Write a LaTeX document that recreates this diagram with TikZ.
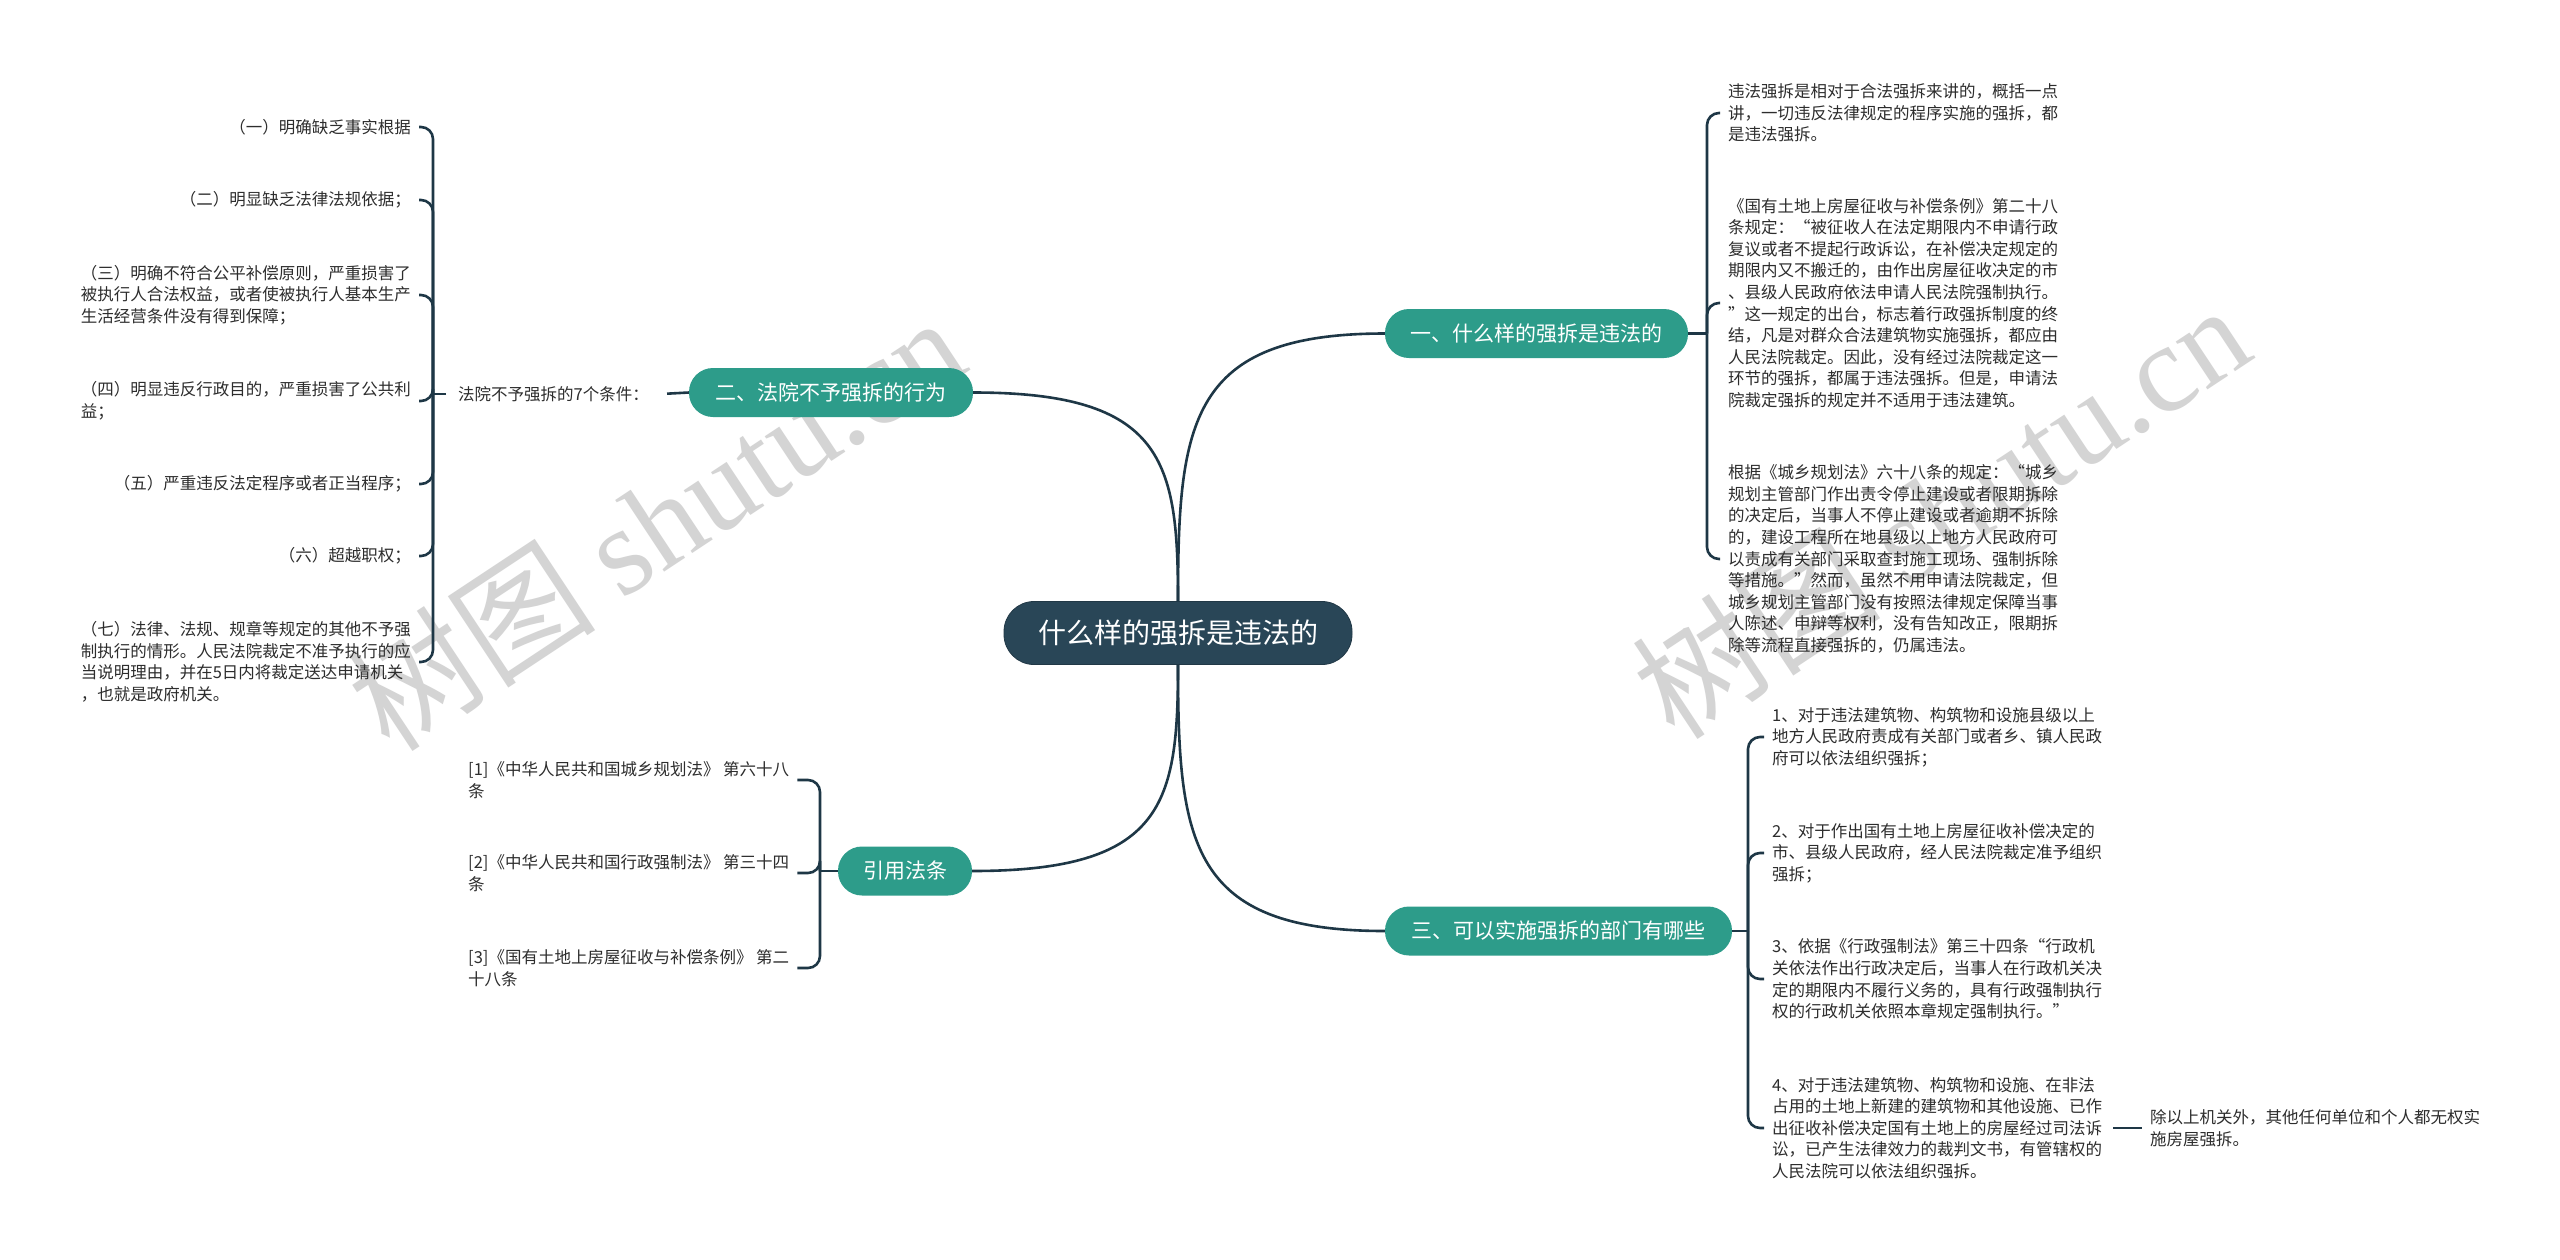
\documentclass[tikz,border=0pt]{standalone}
\usepackage{fontspec}
\setmainfont{Noto Sans CJK SC}
\newfontfamily\wmserif{Liberation Serif}
\definecolor{tealc}{RGB}{45,156,138}
\definecolor{rootc}{RGB}{41,70,87}
\definecolor{linec}{RGB}{30,55,70}
\definecolor{txtc}{RGB}{45,45,45}
\definecolor{wmc}{RGB}{212,212,212}
\begin{document}
\begin{tikzpicture}[x=1pt,y=-1pt,
  rootbox/.style={rounded corners=30pt, fill=rootc, draw=rootc!80!black, line width=0.8pt, text=white,
    minimum width=348pt, minimum height=63pt, inner sep=0pt, font=\fontsize{28}{30}\selectfont},
  branchbox/.style={rounded corners=24pt, fill=tealc, text=white, minimum height=49pt,
    inner sep=0pt, font=\fontsize{21}{24}\selectfont},
  leaf/.style={text=txtc, align=left, inner xsep=8pt, inner ysep=0pt, font=\fontsize{16.5}{21.6}\selectfont},
  conn/.style={draw=linec, line width=2.6pt},
  brk/.style={draw=linec, line width=2.6pt, rounded corners=12pt},
  wmark/.style={text=wmc, rotate=33.5, inner sep=0pt}
]
\useasboundingbox (0,0) rectangle (2560,1259);
\fill[white] (0,0) rectangle (2560,1259);

% watermarks
\node[wmark] (wm1) at (655,522) {\fontsize{125}{125}\selectfont 树图 \wmserif shutu.cn};
\node[wmark] (wm2) at (1940,510) {\fontsize{125}{125}\selectfont 树图 \wmserif shutu.cn};

% root and branches
\node[rootbox] (root) at (1178,633) {什么样的强拆是违法的};
\node[branchbox, minimum width=303pt] (b1) at (1536.5,333.5) {一、什么样的强拆是违法的};
\node[branchbox, minimum width=284pt] (b2) at (831,392.5) {二、法院不予强拆的行为};
\node[branchbox, minimum width=134pt] (bc) at (905,871) {引用法条};
\node[branchbox, minimum width=347pt] (b3) at (1558.5,931) {三、可以实施强拆的部门有哪些};

% root connectors
\draw[conn] (root.north) .. controls +(0,-180) and +(-195,0) .. (b1.west);
\draw[conn] (root.north) .. controls +(0,-140) and +(191,0) .. (b2.east);
\draw[conn] (root.south) .. controls +(0,139) and +(192,0) .. (bc.east);
\draw[conn] (root.south) .. controls +(0,178) and +(-195,0) .. (b3.west);

% ---------- branch 1 ----------
\coordinate (j1) at (1707,333.5);
\node[leaf, anchor=west] (t1) at (1720,113) {违法强拆是相对于合法强拆来讲的，概括一点\\讲，一切违反法律规定的程序实施的强拆，都\\是违法强拆。};
\node[leaf, anchor=west] (t2) at (1720,303) {《国有土地上房屋征收与补偿条例》第二十八\\条规定：“被征收人在法定期限内不申请行政\\复议或者不提起行政诉讼，在补偿决定规定的\\期限内又不搬迁的，由作出房屋征收决定的市\\、县级人民政府依法申请人民法院强制执行。\\”这一规定的出台，标志着行政强拆制度的终\\结，凡是对群众合法建筑物实施强拆，都应由\\人民法院裁定。因此，没有经过法院裁定这一\\环节的强拆，都属于违法强拆。但是，申请法\\院裁定强拆的规定并不适用于违法建筑。};
\node[leaf, anchor=west] (t3) at (1720,559) {根据《城乡规划法》六十八条的规定：“城乡\\规划主管部门作出责令停止建设或者限期拆除\\的决定后，当事人不停止建设或者逾期不拆除\\的，建设工程所在地县级以上地方人民政府可\\以责成有关部门采取查封施工现场、强制拆除\\等措施。”然而，虽然不用申请法院裁定，但\\城乡规划主管部门没有按照法律规定保障当事\\人陈述、申辩等权利，没有告知改正，限期拆\\除等流程直接强拆的，仍属违法。};
\draw[conn] (b1.east) -- (j1);
\draw[brk] (j1) |- (t1.west);
\draw[brk] (j1) |- (t2.west);
\draw[brk] (j1) |- (t3.west);

% ---------- branch 2 ----------
\node[leaf, anchor=west, inner xsep=12pt] (lab) at (446,394) {法院不予强拆的7个条件：};
\coordinate (j2) at (433,394);
\draw[conn, shorten <=6pt] (lab.east) -- (b2.west);
\draw[conn] (lab.west) -- (j2);
\node[leaf, anchor=east] (l1) at (419,127) {（一）明确缺乏事实根据};
\node[leaf, anchor=east] (l2) at (419,200) {（二）明显缺乏法律法规依据；};
\node[leaf, anchor=east] (l3) at (419,295) {（三）明确不符合公平补偿原则，严重损害了\\被执行人合法权益，或者使被执行人基本生产\\生活经营条件没有得到保障；};
\node[leaf, anchor=east] (l4) at (419,401) {（四）明显违反行政目的，严重损害了公共利\\益；};
\node[leaf, anchor=east] (l5) at (419,484) {（五）严重违反法定程序或者正当程序；};
\node[leaf, anchor=east] (l6) at (419,556) {（六）超越职权；};
\node[leaf, anchor=east] (l7) at (419,662) {（七）法律、法规、规章等规定的其他不予强\\制执行的情形。人民法院裁定不准予执行的应\\当说明理由，并在5日内将裁定送达申请机关\\，也就是政府机关。};
\foreach \n in {l1,l2,l3,l4,l5,l6,l7} {\draw[brk] (j2) |- (\n.east);}

% ---------- citations ----------
\coordinate (jc) at (820,871);
\draw[conn] (bc.west) -- (jc);
\node[leaf, anchor=west] (r1) at (460,780) {[1]《中华人民共和国城乡规划法》 第六十八\\条};
\node[leaf, anchor=west] (r2) at (460,873) {[2]《中华人民共和国行政强制法》 第三十四\\条};
\node[leaf, anchor=west] (r3) at (460,968) {[3]《国有土地上房屋征收与补偿条例》 第二\\十八条};
\draw[brk] (jc) |- (r1.east);
\draw[brk] (jc) |- (r2.east);
\draw[brk] (jc) |- (r3.east);

% ---------- branch 3 ----------
\coordinate (j3) at (1748,931);
\draw[conn] (b3.east) -- (j3);
\node[leaf, anchor=west] (c1) at (1764,737) {1、对于违法建筑物、构筑物和设施县级以上\\地方人民政府责成有关部门或者乡、镇人民政\\府可以依法组织强拆；};
\node[leaf, anchor=west] (c2) at (1764,853) {2、对于作出国有土地上房屋征收补偿决定的\\市、县级人民政府，经人民法院裁定准予组织\\强拆；};
\node[leaf, anchor=west] (c3) at (1764,979) {3、依据《行政强制法》第三十四条“行政机\\关依法作出行政决定后，当事人在行政机关决\\定的期限内不履行义务的，具有行政强制执行\\权的行政机关依照本章规定强制执行。”};
\node[leaf, anchor=west] (c4) at (1764,1128) {4、对于违法建筑物、构筑物和设施、在非法\\占用的土地上新建的建筑物和其他设施、已作\\出征收补偿决定国有土地上的房屋经过司法诉\\讼，已产生法律效力的裁判文书，有管辖权的\\人民法院可以依法组织强拆。};
\draw[brk] (j3) |- (c1.west);
\draw[brk] (j3) |- (c2.west);
\draw[brk] (j3) |- (c3.west);
\draw[brk] (j3) |- (c4.west);
\node[leaf, anchor=west] (s4) at (2142,1128) {除以上机关外，其他任何单位和个人都无权实\\施房屋强拆。};
\draw[conn, shorten <=3pt] (c4.east) -- (s4.west);
\end{tikzpicture}
\end{document}
